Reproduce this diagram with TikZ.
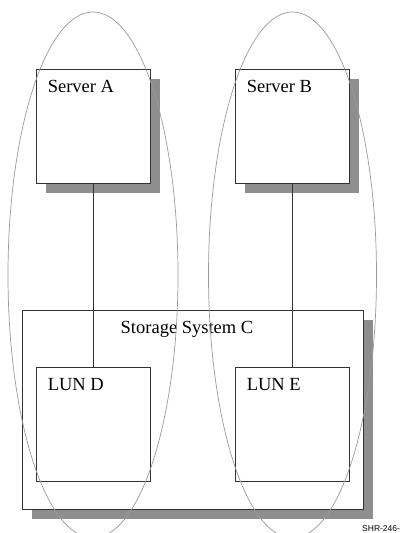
\documentclass[tikz,border=0pt]{standalone}
\usepackage{fontspec}
\setmainfont{Liberation Serif}
\newfontfamily\tagfont{Liberation Sans}
\usepackage{xcolor}
\usetikzlibrary{shadows}
\definecolor{boxline}{HTML}{333333}
\definecolor{shade}{HTML}{8E8E8E}
\definecolor{ring}{HTML}{9A9A9A}

\begin{document}
\begin{tikzpicture}[x=1pt, y=-1pt,
      box/.style = {draw=boxline, line width=0.9pt, fill=white, inner sep=0pt},
      shaded/.style = {box, drop shadow={shadow xshift=10pt, shadow yshift=-10pt,
                                         fill=shade, opacity=1}},
      unit/.style = {minimum width=114, minimum height=114},
      boxtitle/.style = {inner sep=0pt, font=\fontsize{18.5}{22}\selectfont},
      link/.style = {draw=boxline, line width=0.8pt},
      zone/.style = {draw=ring, line width=0.7pt}]
      \useasboundingbox (0,0) rectangle (407,533);
      \node[shaded, minimum width=341, minimum height=199] (store) at (192.5,409.5) {};
      \node[shaded, unit] (srvA) at (93,126) {};
      \node[shaded, unit] (srvB) at (292,126) {};
      \node[box, unit] (lunD) at (93,424) {};
      \node[box, unit] (lunE) at (292,424) {};
      \node[boxtitle, anchor=base west] at ([shift={(12,24)}]srvA.north west) {Server A};
      \node[boxtitle, anchor=base west] at ([shift={(12,24)}]srvB.north west) {Server B};
      \node[boxtitle, anchor=base west] at ([shift={(12,24)}]lunD.north west) {LUN D};
      \node[boxtitle, anchor=base west] at ([shift={(12,24)}]lunE.north west) {LUN E};
      \node[boxtitle, anchor=base] at ([shift={(-5.5,24)}]store.north) {Storage System C};
      \draw[link] (srvA.south) -- (lunD.north);
      \draw[link] (srvB.south) -- (lunE.north);
      \draw[zone] (93,275) ellipse (85 and 263);
      \draw[zone] (292.5,275) ellipse (84 and 263);
      \node[inner sep=0pt, anchor=base west, font=\tagfont\fontsize{8.5}{10}\selectfont]
            (tag) at (362,531.5) {SHR-246-};
\end{tikzpicture}
\end{document}
